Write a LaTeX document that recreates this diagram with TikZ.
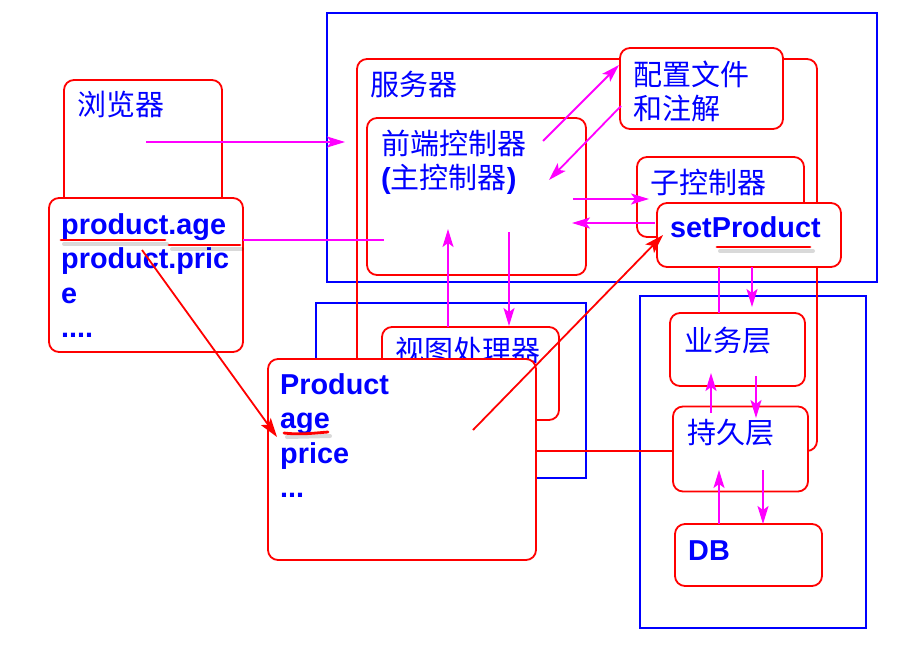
\documentclass[tikz,border=0pt]{standalone}
\usepackage{fontspec}
\setmainfont{Liberation Sans}
\newfontfamily\cjk{Noto Sans CJK SC}
\usetikzlibrary{arrows.meta}
\definecolor{flowpink}{RGB}{255,0,255}

\begin{document}
\begin{tikzpicture}[x=1pt, y=-1pt,
    bluebox/.style ={draw=blue, line width=2pt, inner sep=0pt},
    redbox/.style ={draw=red, line width=1.8pt, rounded corners=10pt, fill=white, inner sep=0pt},
    cntext/.style ={text=blue, inner sep=0pt, align=left, font=\cjk\fontsize{29}{34}\selectfont},
    entext/.style ={text=blue, inner sep=0pt, align=left, font=\bfseries\fontsize{28.8}{34.5}\selectfont},
    flow/.style ={draw=flowpink, line width=1.8pt, -{Stealth[length=18pt, width=11pt, inset=4pt]}},
    jump/.style ={draw=red, line width=1.8pt, -{Stealth[length=19pt, width=12pt, inset=4pt]}},
    uline/.style ={draw=red, line width=2.8pt, line cap=round},
    ushadow/.style ={draw=black, opacity=0.15, line width=4pt, line cap=round}]
   \useasboundingbox (0,0) rectangle (901,651);
   % frames
   \node[bluebox, minimum width=550pt, minimum height=269pt] (serverframe) at (602,147.5) {};
   \node[bluebox, minimum width=270pt, minimum height=175pt] (viewframe) at (451,390.5) {};
   \node[bluebox, minimum width=226pt, minimum height=332pt] (layerframe) at (753,462) {};
   \node[redbox, fill=none, minimum width=460pt, minimum height=392pt] (server) at (587,255) {};
   % boxes
   \node[redbox, minimum width=158pt, minimum height=160pt] (browser) at (143,160) {};
   \node[redbox, minimum width=194pt, minimum height=154pt] (params) at (146,275) {};
   \node[redbox, minimum width=219pt, minimum height=157pt] (front) at (476.5,196.5) {};
   \node[redbox, minimum width=163pt, minimum height=81pt] (config) at (701.5,88.5) {};
   \node[redbox, minimum width=167pt, minimum height=80pt] (sub) at (720.5,197) {};
   \node[redbox, minimum width=184pt, minimum height=64pt] (setter) at (749,235) {};
   \node[redbox, minimum width=177pt, minimum height=93pt] (view) at (470.5,373.5) {};
   \node[cntext, anchor=west] (viewtxt) at (395,351) {视图处理器};
   \node[redbox, minimum width=268pt, minimum height=201pt] (bean) at (402,459.5) {};
   \node[redbox, minimum width=135pt, minimum height=73pt] (service) at (737.5,349.5) {};
   \node[redbox, minimum width=135pt, minimum height=85pt] (dao) at (740.5,449) {};
   \node[redbox, minimum width=147pt, minimum height=62pt] (db) at (748.5,555) {};
   % texts
   \node[cntext, anchor=west] (browsertxt) at (77,104) {浏览器};
   \node[cntext, anchor=west] (servertxt) at (370,84) {服务器};
   \node[cntext, anchor=north west] (fronttxt) at (381,130)
      {前端控制器\\{\rmfamily\bfseries (}主控制器{\rmfamily\bfseries )}};
   \node[cntext, anchor=north west] (configtxt) at (633,61) {配置文件\\和注解};
   \node[cntext, anchor=west] (subtxt) at (650,182) {子控制器};
   \node[cntext, anchor=west] (servicetxt) at (684,341) {业务层};
   \node[cntext, anchor=west] (daotxt) at (687,433) {持久层};
   \node[entext, anchor=north west] (paramstxt) at (61,213) {product.age\\product.pric\\e\\....};
   \node[entext, anchor=north west] (beantxt) at (280,373) {Product\\age\\price\\...};
   \node[entext, anchor=base west] (settertxt) at (670,237) {setProduct};
   \node[entext, anchor=base west] (dbtxt) at (688,560) {DB};
   % underlines
   \draw[ushadow] (64,244) -- (167,244);
   \draw[ushadow] (172,249) -- (242,249);
   \draw[ushadow] (287,437) -- (330,436);
   \draw[ushadow] (720,251) -- (813,251);
   \draw[uline] (61,240) -- (165,240);
   \draw[uline] (169,245) -- (240,245);
   \draw[uline] (284,433) .. controls (300,435) and (315,433) .. (328,432);
   \draw[uline] (717,247) -- (810,247);
   % connectors
   \coordinate (b1) at (146,142);  \coordinate (b2) at (345,142);
   \coordinate (a1) at (243,240);  \coordinate (a2) at (384,240);
   \coordinate (f1) at (543,141);  \coordinate (c1) at (619,65);
   \coordinate (c2) at (621,106);  \coordinate (f2) at (549,180);
   \coordinate (f3) at (573,199);  \coordinate (s1) at (649,199);
   \coordinate (s2) at (655,223);  \coordinate (f4) at (572,223);
   \coordinate (f5) at (509,232);  \coordinate (v1) at (509,326);
   \coordinate (v2) at (448,327);  \coordinate (f6) at (448,229);
   \coordinate (p1) at (719,267);  \coordinate (p2) at (719,313);
   \coordinate (p3) at (752,267);  \coordinate (p4) at (752,307);
   \coordinate (l1) at (711,413);  \coordinate (l2) at (711,373);
   \coordinate (l3) at (756,376);  \coordinate (l4) at (756,418);
   \coordinate (d1) at (719,524);  \coordinate (d2) at (719,470);
   \coordinate (d3) at (763,470);  \coordinate (d4) at (763,524);
   \coordinate (r1) at (142,250);  \coordinate (r2) at (277,437);
   \coordinate (r3) at (473,430);  \coordinate (r4) at (663,235);
   \draw[flow] (b1) to (b2);
   \draw[flow, -] (a1) to (a2);
   \draw[flow] (f1) to (c1);
   \draw[flow] (c2) to (f2);
   \draw[flow] (f3) to (s1);
   \draw[flow] (s2) to (f4);
   \draw[flow] (f5) to (v1);
   \draw[flow] (v2) to (f6);
   \draw[flow, -] (p1) to (p2);
   \draw[flow] (p3) to (p4);
   \draw[flow] (l1) to (l2);
   \draw[flow] (l3) to (l4);
   \draw[flow] (d1) to (d2);
   \draw[flow] (d3) to (d4);
   \draw[jump] (r1) to (r2);
   \draw[jump] (r3) to (r4);
 \end{tikzpicture}
\end{document}
